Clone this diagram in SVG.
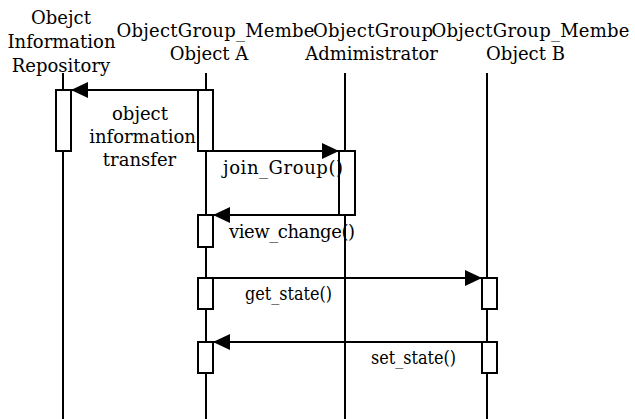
<svg xmlns="http://www.w3.org/2000/svg" width="635" height="419" viewBox="0 0 635 419">
<style>
text{font-family:"DejaVu Serif","Liberation Serif",serif;font-size:18px;fill:#000}
.m{text-anchor:middle}
.life{stroke:#000;stroke-width:2;fill:none}
.act{stroke:#000;stroke-width:2;fill:#fff}
.msg{stroke:#000;stroke-width:2;fill:none;marker-end:url(#ah)}
</style>
<defs>
<marker id="ah" markerUnits="userSpaceOnUse" markerWidth="17" markerHeight="16" refX="17" refY="8" orient="auto">
<path d="M0,0 L17,8 L0,16 Z" fill="#000"/>
</marker>
</defs>
<rect width="635" height="419" fill="#fff"/>
<g id="repository">
<text class="m" x="61" y="24">Obejct</text>
<text class="m" x="61.5" y="48">Information</text>
<text class="m" x="61" y="72">Repository</text>
<line class="life" x1="63" y1="73" x2="63" y2="419"/>
<rect class="act" x="56" y="90" width="15" height="61"/>
</g>
<g id="memberA">
<text x="116.5" y="37" textLength="198">ObjectGroup_Membe</text>
<text class="m" x="209" y="60">Object A</text>
<line class="life" x1="206" y1="73" x2="206" y2="419"/>
<rect class="act" x="198" y="90" width="15" height="61"/>
<rect class="act" x="198" y="215" width="15" height="32"/>
<rect class="act" x="198" y="278" width="15" height="31"/>
<rect class="act" x="198" y="342" width="15" height="31"/>
</g>
<g id="administrator">
<text x="313" y="37" textLength="120">ObjectGroup</text>
<text class="m" x="371.5" y="60">Admimistrator</text>
<line class="life" x1="345" y1="73" x2="345" y2="419"/>
<rect class="act" x="339" y="151" width="16" height="64"/>
</g>
<g id="memberB">
<text x="431.5" y="37" textLength="198">ObjectGroup_Membe</text>
<text class="m" x="525.5" y="60">Object B</text>
<line class="life" x1="487" y1="73" x2="487" y2="419"/>
<rect class="act" x="482" y="278" width="15" height="31"/>
<rect class="act" x="482" y="342" width="15" height="31"/>
</g>
<g id="connectors">
<line class="msg" x1="198" y1="90" x2="71" y2="90"/>
<line class="msg" x1="213" y1="151" x2="339" y2="151"/>
<line class="msg" x1="339" y1="215" x2="213" y2="215"/>
<line class="msg" x1="213" y1="278" x2="482" y2="278"/>
<line class="msg" x1="482" y1="342" x2="213" y2="342"/>
<text class="m" x="140" y="120">object</text>
<text class="m" x="142.5" y="143">information</text>
<text class="m" x="139.5" y="166">transfer</text>
<text x="223" y="174" textLength="120">join_Group()</text>
<text x="229" y="238" textLength="126">view_change()</text>
<text x="245" y="300" textLength="87" lengthAdjust="spacingAndGlyphs">get_state()</text>
<text x="371" y="364" textLength="85" lengthAdjust="spacingAndGlyphs">set_state()</text>
</g>
</svg>
